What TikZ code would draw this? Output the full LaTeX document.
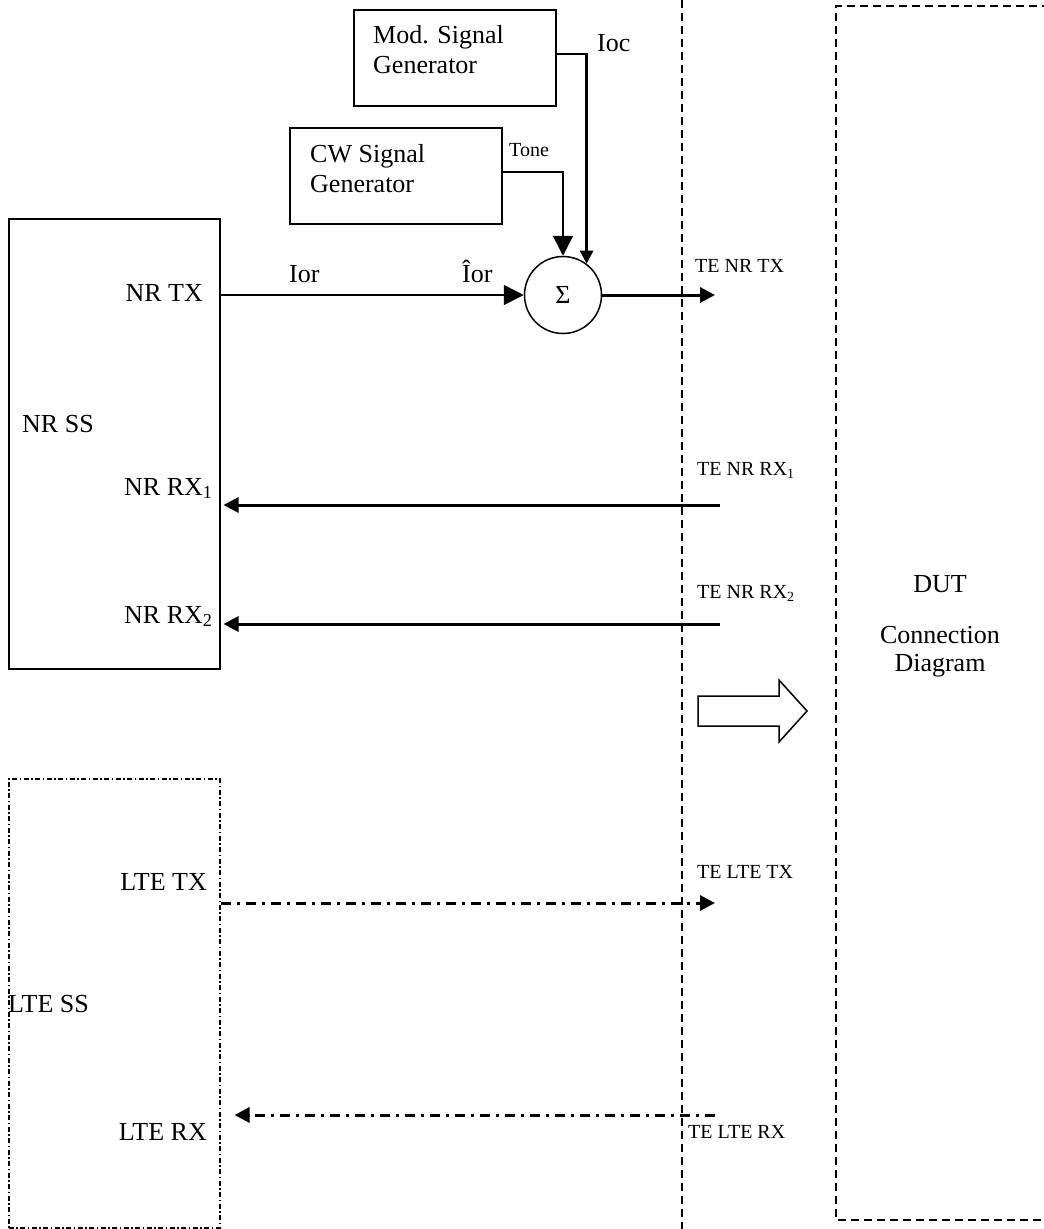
\documentclass[tikz,border=0pt]{standalone}
\usepackage{fontspec}
\setmainfont{Liberation Serif}
\usetikzlibrary{arrows.meta,positioning}

\tikzset{
  bigtxt/.style={font=\fontsize{26}{30}\selectfont, inner sep=0pt},
  smalltxt/.style={font=\fontsize{20}{24}\selectfont, inner sep=0pt},
  genbox/.style={draw, line width=1.5pt, inner sep=0pt, anchor=north west},
  thinsig/.style={line width=1.5pt},
  thicksig/.style={line width=3pt},
  tipbig/.style={-{Triangle[length=20pt,width=20pt]}},
  tipmid/.style={-{Triangle[length=15pt,width=15pt]}},
  tipsmall/.style={-{Triangle[length=13pt,width=13pt]}},
  dashdotline/.style={dash pattern=on 10pt off 6pt on 3pt off 6pt},
  dashdotbox/.style={line width=1.5pt, dash pattern=on 5pt off 2.5pt on 1.5pt off 2.5pt},
  dashbox/.style={line width=2pt, dash pattern=on 8pt off 5pt}
}

\begin{document}
\begin{tikzpicture}[x=1pt, y=-1pt]
    \useasboundingbox (0,0) rectangle (1044,1229);

    % Generatory
    \node[genbox, minimum width=202pt, minimum height=96pt] (modgen) at (353,9) {};
    \node[bigtxt, align=left, anchor=north west] (modtxt) at (373,25) {Mod. Signal\\Generator};
    \node[genbox, minimum width=212pt, minimum height=96pt] (cwgen) at (289,127) {};
    \node[bigtxt, align=left, anchor=north west] (cwtxt) at (310,144) {CW Signal\\Generator};

    % Simulátory systému
    \node[genbox, minimum width=211pt, minimum height=450pt] (nrss) at (8,218) {};
    \node[genbox, dashdotbox, minimum width=211pt, minimum height=449pt] (ltess) at (8,778) {};

    % Sčítací člen
    \node[draw, circle, line width=1.5pt, minimum size=77pt, inner sep=0pt,
          font=\fontsize{26}{30}\selectfont] (sum) at (563,295) {Σ};

    % Rozhraní testovacího zařízení (TE) a DUT
    \coordinate (ifacetop) at (682,0);
    \coordinate (ifacebot) at (682,1229);
    \draw[dashbox] (ifacetop) -- (ifacebot);
    \draw[dashbox] (1050,6) -- (836,6) -- (836,1220) -- (1050,1220);

    % Koncové body vodičů u TE
    \coordinate (tenrtx) at (715,295);
    \coordinate (tenrrx1) at (720,505);
    \coordinate (tenrrx2) at (720,624);
    \coordinate (teltetx) at (715,903);
    \coordinate (telterx) at (715,1115);

    % Popisky portů
    \node[bigtxt, anchor=base east] (nrtx) at (203,301) {NR TX};
    \node[bigtxt, anchor=base west] (nrsslbl) at (22,432) {NR SS};
    \node[bigtxt, anchor=base west] (nrrx1) at (124,495) {NR RX\textsubscript{1}};
    \node[bigtxt, anchor=base west] (nrrx2) at (124,623) {NR RX\textsubscript{2}};
    \node[bigtxt, anchor=base east] (ltetx) at (207,890) {LTE TX};
    \node[bigtxt, anchor=base west] (ltesslbl) at (8,1012) {LTE SS};
    \node[bigtxt, anchor=base east] (lterx) at (207,1140) {LTE RX};

    \node[smalltxt, anchor=base west] (tenrtxlbl) at (695,272) {TE NR TX};
    \node[smalltxt, anchor=base west] (tenrrx1lbl) at (697,475) {TE NR RX\textsubscript{1}};
    \node[smalltxt, anchor=base west] (tenrrx2lbl) at (697,598) {TE NR RX\textsubscript{2}};
    \node[smalltxt, anchor=base west] (teltetxlbl) at (697,878) {TE LTE TX};
    \node[smalltxt, anchor=base west] (telterxlbl) at (688,1138) {TE LTE RX};

    \node[bigtxt, anchor=base west] (iorlbl) at (289,282) {Ior};
    \node[bigtxt, anchor=base west] (iorhatlbl) at (462,282) {Îor};
    \node[smalltxt, anchor=base west] (tonelbl) at (509,156) {Tone};
    \node[bigtxt, anchor=base west] (ioclbl) at (597,51) {Ioc};

    \node[bigtxt, anchor=base] (dutlbl) at (940,592) {DUT};
    \node[font=\fontsize{26}{28}\selectfont, inner sep=0pt, align=center] (dutname) at (940,652) {Connection\\Diagram};

    % Signály do sčítacího členu
    \draw[thinsig, tipbig] (nrss.east |- sum) -- (sum.west);
    \draw[thinsig, tipbig] ([yshift=4pt]cwgen.east) -| (sum.north);
    \draw[line width=2.5pt, tipsmall] ([yshift=4pt]modgen.east) -| (sum.53);
    \draw[thicksig, tipmid] (sum.east) -- (tenrtx);

    % Příjem NR
    \foreach \rx in {tenrrx1, tenrrx2} {
        \draw[thicksig, tipmid, shorten >=3pt] (\rx) -- (nrss.east |- \rx);
    }

    % LTE (čerchovaně)
    \draw[thicksig, dashdotline, tipmid] (ltess.east |- teltetx) -- (teltetx);
    \draw[thicksig, dashdotline, tipmid, shorten >=14pt] (telterx) -- (ltess.east |- telterx);

    % Dutá šipka
    \draw[line width=1.5pt] (698,696) -- (779,696) -- (779,680) -- (807,711)
        -- (779,742) -- (779,726) -- (698,726) -- cycle;
\end{tikzpicture}
\end{document}
